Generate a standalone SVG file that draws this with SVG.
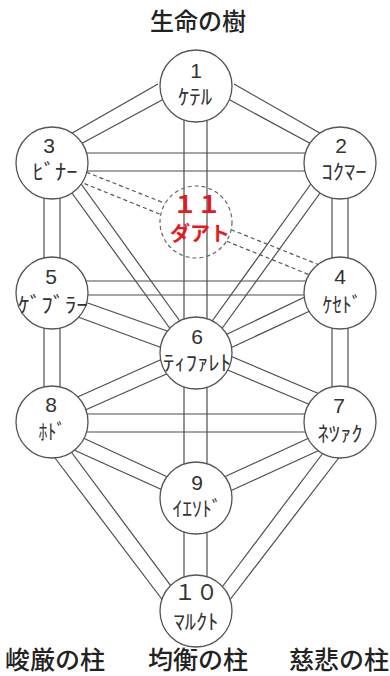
<svg xmlns="http://www.w3.org/2000/svg" width="390" height="676" viewBox="0 0 390 676">
<style>
.c{fill:#fff;stroke:#555;stroke-width:1.3}
.d{fill:none;stroke:#666;stroke-width:1.2;stroke-dasharray:4 3}
#links line{stroke:#4d4d4d;stroke-width:1.2}
#links .dash{stroke:#555;stroke-dasharray:4 3}
text{font-family:"Noto Sans CJK JP","Noto Sans",sans-serif;text-anchor:middle;fill:#333}
.n{font-family:"Liberation Sans","Noto Sans",sans-serif;font-size:21px}
.k{font-size:21px}
.t{font-size:24px;fill:#222;font-weight:500}
.r{fill:#e41a1c;font-weight:bold}
</style>
<rect width="390" height="676" fill="#fff"/>
<text class="t" x="198" y="30">生命の樹</text>
<g id="links">
<line x1="234" y1="84" x2="325" y2="136"/><line x1="230" y1="100" x2="315" y2="146"/>
<line x1="158" y1="84" x2="67" y2="136"/><line x1="162" y1="100" x2="77" y2="146"/>
<line x1="184" y1="115" x2="184" y2="325"/><line x1="207" y1="115" x2="207" y2="325"/>
<line x1="80" y1="153" x2="312" y2="153"/><line x1="80" y1="171" x2="312" y2="171"/>
<line x1="44" y1="190" x2="44" y2="266"/><line x1="60" y1="190" x2="60" y2="266"/>
<line x1="332" y1="190" x2="332" y2="266"/><line x1="348" y1="190" x2="348" y2="266"/>
<line x1="79" y1="181" x2="182" y2="324"/><line x1="69" y1="189" x2="174" y2="334"/>
<line x1="313" y1="181" x2="210" y2="324"/><line x1="323" y1="189" x2="218" y2="334"/>
<line class="dash" x1="80" y1="169.6" x2="165" y2="203.4"/><line class="dash" x1="78" y1="181" x2="161" y2="214.6"/>
<line class="dash" x1="231.2" y1="229.7" x2="322" y2="266"/><line class="dash" x1="226.7" y1="241.2" x2="316" y2="277.5"/>
<line x1="80" y1="281" x2="312" y2="281"/><line x1="80" y1="295" x2="312" y2="295"/>
<line x1="82" y1="301" x2="170" y2="332"/><line x1="74" y1="315.5" x2="165" y2="349"/>
<line x1="309" y1="295" x2="221" y2="337"/><line x1="312" y1="310" x2="226" y2="350"/>
<line x1="44" y1="320" x2="44" y2="395"/><line x1="60" y1="320" x2="60" y2="395"/>
<line x1="332" y1="320" x2="332" y2="395"/><line x1="348" y1="320" x2="348" y2="395"/>
<line x1="73" y1="399" x2="169" y2="356"/><line x1="83" y1="411" x2="171" y2="372"/>
<line x1="229" y1="355.5" x2="322" y2="395"/><line x1="224" y1="368.5" x2="312" y2="405.5"/>
<line x1="80" y1="414" x2="312" y2="414"/><line x1="80" y1="432" x2="312" y2="432"/>
<line x1="184" y1="380" x2="184" y2="470"/><line x1="207" y1="380" x2="207" y2="470"/>
<line x1="81" y1="437" x2="172" y2="479"/><line x1="74" y1="450" x2="167" y2="492"/>
<line x1="309" y1="438" x2="222" y2="478"/><line x1="322" y1="449" x2="228" y2="492"/>
<line x1="52" y1="454" x2="164" y2="602"/><line x1="69" y1="449" x2="172" y2="587.4"/>
<line x1="323" y1="453" x2="221" y2="588.5"/><line x1="341" y1="455" x2="229" y2="601"/>
<line x1="184" y1="525" x2="184" y2="580"/><line x1="207" y1="525" x2="207" y2="580"/>
</g>
<g id="n11">
<circle class="d" cx="196" cy="222" r="36"/>
<text class="r" x="197" y="213" style="font-size:24px;fill:#e41a1c">１１</text>
<text class="r" x="200" y="241" style="font-size:20px;fill:#e41a1c">ダアト</text>
</g>
<g id="n1"><circle class="c" cx="196" cy="86" r="36"/><text class="n" x="196" y="78">1</text><text class="k" x="195" y="104" textLength="34" lengthAdjust="spacingAndGlyphs">ｹﾃﾙ</text></g>
<g id="n2"><circle class="c" cx="340" cy="163" r="36"/><text class="n" x="341" y="153">2</text><text class="k" x="344" y="179" textLength="45" lengthAdjust="spacingAndGlyphs">ｺｸﾏｰ</text></g>
<g id="n3"><circle class="c" cx="52" cy="163" r="36"/><text class="n" x="49" y="153">3</text><text class="k" x="55" y="179" textLength="45" lengthAdjust="spacingAndGlyphs">ﾋﾞﾅｰ</text></g>
<g id="n4"><circle class="c" cx="340" cy="293" r="36"/><text class="n" x="340" y="284">4</text><text class="k" x="342" y="312" textLength="39" lengthAdjust="spacingAndGlyphs">ｹｾﾄﾞ</text></g>
<g id="n5"><circle class="c" cx="52" cy="293" r="36"/><text class="n" x="51" y="284">5</text><text class="k" x="53" y="312" textLength="70" lengthAdjust="spacingAndGlyphs">ｹﾞﾌﾞﾗｰ</text></g>
<g id="n6"><circle class="c" cx="196" cy="353" r="36"/><text class="n" x="197" y="344">6</text><text class="k" x="197" y="370" textLength="68" lengthAdjust="spacingAndGlyphs">ﾃｨﾌｧﾚﾄ</text></g>
<g id="n7"><circle class="c" cx="340" cy="422" r="36"/><text class="n" x="339" y="413">7</text><text class="k" x="340" y="441" textLength="45" lengthAdjust="spacingAndGlyphs">ﾈﾂｧｸ</text></g>
<g id="n8"><circle class="c" cx="52" cy="422" r="36"/><text class="n" x="51" y="412">8</text><text class="k" x="52" y="439" textLength="27" lengthAdjust="spacingAndGlyphs">ﾎﾄﾞ</text></g>
<g id="n9"><circle class="c" cx="196" cy="498" r="36"/><text class="n" x="197" y="490">9</text><text class="k" x="197" y="516" textLength="49" lengthAdjust="spacingAndGlyphs">ｲｴｿﾄﾞ</text></g>
<g id="n10"><circle class="c" cx="196" cy="611" r="36"/><text x="196" y="600" style="font-size:22px">１０</text><text class="k" x="196" y="629" textLength="45" lengthAdjust="spacingAndGlyphs">ﾏﾙｸﾄ</text></g>
<text class="t" x="55" y="669" style="font-size:25px">峻厳の柱</text>
<text class="t" x="198" y="669" style="font-size:25px">均衡の柱</text>
<text class="t" x="339" y="669" style="font-size:25px">慈悲の柱</text>
</svg>
